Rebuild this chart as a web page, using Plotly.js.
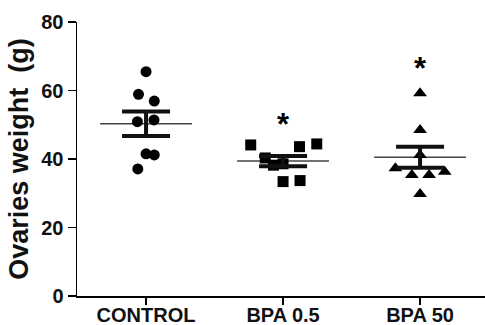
<!DOCTYPE html>
<html>
<head>
<meta charset="utf-8">
<script src="https://cdn.plot.ly/plotly-3.0.1.min.js"></script>
<style>html,body{margin:0;padding:0;background:#fff;}#chart{width:485px;height:325px;}</style>
</head>
<body>
<div id="chart"></div>
<script>
// ---- data ----
const categories = ['CONTROL', 'BPA 0.5', 'BPA 50'];
const yTicks = [0, 20, 40, 60, 80];

const controlValues = [65.5, 58.9, 56.9, 50.9, 51.4, 41.5, 41.2, 37.1];
const controlJitter = [0.0, -0.055, 0.06, -0.063, 0.058, 0.0, 0.06, -0.06];

const bpa05Values = [44.1, 43.6, 44.4, 40.3, 38.2, 38.6, 33.4, 33.7];
const bpa05Jitter = [-0.236, 0.12, 0.246, -0.13, -0.07, 0.0, 0.0, 0.124];

const bpa50Values = [59.2, 48.5, 41.2, 37.3, 35.3, 35.3, 36.3, 29.8];
const bpa50Jitter = [0.0, 0.0, 0.0, -0.18, -0.06, 0.066, 0.18, 0.0];

const groupMeans = [50.3, 39.4, 40.5];
const groupSEM = [3.6, 1.5, 3.05];

const sigLabels = ['', '*', '*'];
const sigY = [null, 50.9, 67.4];

// ---- build traces ----
const FONT = 'Liberation Sans, Arial, sans-serif';
const groups = [
  {vals: controlValues, jit: controlJitter, symbol: 'circle', size: 11},
  {vals: bpa05Values, jit: bpa05Jitter, symbol: 'square', size: 11},
  {vals: bpa50Values, jit: bpa50Jitter, symbol: 'triangle-up', size: 12}
];

const traces = [];
const meanHalf = 0.335;
const mx = [], my = [];
groupMeans.forEach((m, i) => { mx.push(i - meanHalf, i + meanHalf, null); my.push(m, m, null); });
traces.push({x: mx, y: my, mode: 'lines', line: {color: '#444', width: 1.5}, hoverinfo: 'skip', cliponaxis: false});

groups.forEach((g, i) => {
  traces.push({
    x: g.vals.map((v, k) => i + g.jit[k]),
    y: g.vals,
    mode: 'markers',
    marker: {symbol: g.symbol, size: g.size, color: '#000', line: {width: 0}},
    cliponaxis: false
  });
});

traces.push({
  x: categories.map((c, i) => i),
  y: groupMeans,
  mode: 'markers',
  marker: {size: 0.1, color: '#000'},
  error_y: {type: 'data', array: groupSEM, visible: true, color: '#111', thickness: 4, width: 24},
  hoverinfo: 'skip'
});

const annotations = [];
sigLabels.forEach((s, i) => {
  if (s) annotations.push({x: i, y: sigY[i], xref: 'x', yref: 'y', text: s, showarrow: false,
    font: {family: FONT, size: 31, color: '#000', weight: 'bold'}, yshift: -3});
});

const layout = {
  width: 485, height: 325,
  margin: {l: 77, r: 0, t: 22, b: 29},
  paper_bgcolor: '#fff', plot_bgcolor: '#fff',
  showlegend: false,
  font: {family: FONT, color: '#000'},
  xaxis: {
    range: [-0.504, 2.474], tickvals: categories.map((c, i) => i), ticktext: categories,
    showgrid: false, zeroline: false, showline: true, linecolor: '#000', linewidth: 1.5,
    ticks: 'outside', ticklen: 7, tickwidth: 1.5, tickcolor: '#000', ticklabelstandoff: -7,
    tickfont: {family: FONT, size: 20, color: '#111', weight: 'bold'}
  },
  yaxis: {
    range: [0, 80], tickvals: yTicks,
    showgrid: false, zeroline: false, showline: true, linecolor: '#000', linewidth: 1.5,
    ticks: 'outside', ticklen: 8, tickwidth: 1.5, tickcolor: '#000',
    tickfont: {family: FONT, size: 20, color: '#111', weight: 'bold'},
    title: {text: 'Ovaries weight  (g)', font: {family: FONT, size: 27, color: '#111', weight: 'bold'}, standoff: 5}
  },
  annotations: annotations
};

Plotly.newPlot('chart', traces, layout, {displayModeBar: false, staticPlot: true});
</script>
</body>
</html>
